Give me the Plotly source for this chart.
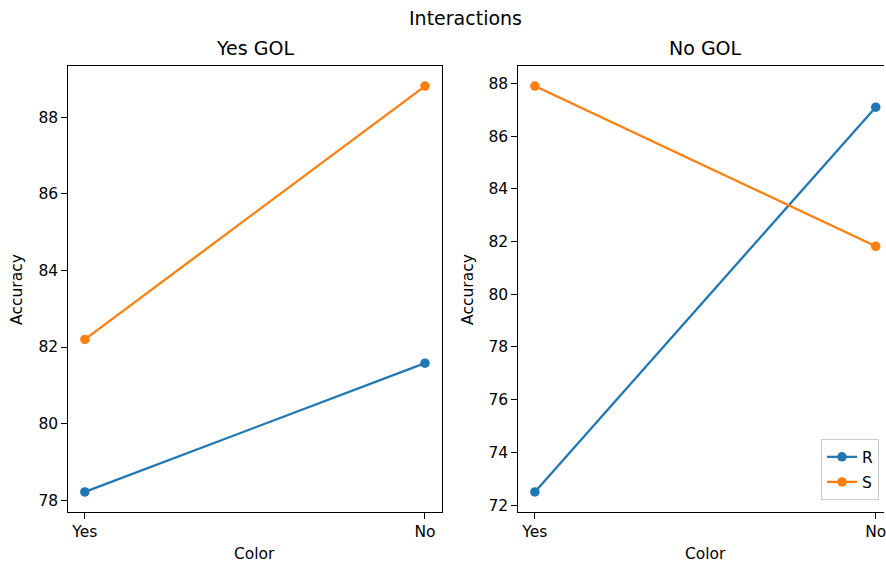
import plotly.graph_objects as go

# Interaction data: accuracy by Color level, split by GOL condition
colors_cat = ["Yes", "No"]
yes_gol_R = [78.22, 81.58]
yes_gol_S = [82.20, 88.81]
no_gol_R = [72.50, 87.10]
no_gol_S = [87.90, 81.82]

series_names = ["R", "S"]
series_colors = ["#1f77b4", "#ff7f0e"]

W, H = 886, 570
FONT = "DejaVu Sans"
TXT = "#000000"


def px_x(x):
    return x / W


def px_y(y):
    return 1 - y / H


fig = go.Figure()

panels = [
    ("x", "y", [yes_gol_R, yes_gol_S], False),
    ("x2", "y2", [no_gol_R, no_gol_S], True),
]
for xa, ya, data, show_leg in panels:
    for name, vals, col in zip(series_names, data, series_colors):
        fig.add_trace(go.Scatter(
            x=colors_cat, y=vals, name=name, mode="lines+markers",
            line=dict(color=col, width=2.3),
            marker=dict(color=col, size=9.5),
            xaxis=xa, yaxis=ya, showlegend=show_leg, legendgroup=name,
        ))


def ymargin(values):
    lo, hi = min(values), max(values)
    pad = (hi - lo) * 0.05
    return [lo - pad, hi + pad]


axis_common = dict(
    showline=True, linecolor="#000000", linewidth=1.2,
    ticks="outside", ticklen=5.5, tickwidth=1.2, tickcolor="#000000",
    showgrid=False, zeroline=False,
    tickfont=dict(family=FONT, size=15.5, color=TXT),
)

y_top, y_bot = 66, 514
left_dom = [px_x(68), px_x(443)]
right_dom = [px_x(519), 1.0]
ydom = [px_y(y_bot), px_y(y_top)]

fig.update_layout(
    width=W, height=H,
    margin=dict(l=0, r=0, t=0, b=0),
    paper_bgcolor="white", plot_bgcolor="white",
    font=dict(family=FONT, color=TXT),
    xaxis=dict(domain=left_dom, anchor="y", type="category",
               range=[-0.05, 1.05], mirror=True, **axis_common),
    yaxis=dict(domain=ydom, anchor="x", range=ymargin(yes_gol_R + yes_gol_S),
               dtick=2, mirror=True, **axis_common),
    xaxis2=dict(domain=right_dom, anchor="y2", type="category",
                range=[-0.05, 1.0243], mirror=True, ticklabeloverflow="allow",
                **axis_common),
    yaxis2=dict(domain=ydom, anchor="x2", range=ymargin(no_gol_R + no_gol_S),
                dtick=2, mirror=False, **axis_common),
    legend=dict(
        x=px_x(881), y=px_y(502), xanchor="right", yanchor="bottom",
        bgcolor="rgba(255,255,255,0.8)", bordercolor="#cccccc", borderwidth=1,
        font=dict(family=FONT, size=15.5, color=TXT),
        itemwidth=30, tracegroupgap=2, entrywidth=30,
    ),
)

annotations = [
    dict(text="Interactions", x=px_x(467), y=px_y(18), size=19),
    dict(text="Yes GOL", x=px_x(255.5), y=px_y(48), size=19),
    dict(text="No GOL", x=px_x(707), y=px_y(48), size=19),
    dict(text="Color", x=px_x(255.5), y=px_y(556), size=15.5),
    dict(text="Color", x=px_x(707), y=px_y(556), size=15.5),
]
for a in annotations:
    fig.add_annotation(text=a["text"], x=a["x"], y=a["y"], xref="paper",
                       yref="paper", xanchor="center", yanchor="middle",
                       showarrow=False,
                       font=dict(family=FONT, size=a["size"], color=TXT))

for xpos in (17, 469):
    fig.add_annotation(text="Accuracy", x=px_x(xpos), y=px_y(290),
                       xref="paper", yref="paper", xanchor="center",
                       yanchor="middle", showarrow=False, textangle=-90,
                       font=dict(family=FONT, size=15.5, color=TXT))

fig.write_html("out.html")
